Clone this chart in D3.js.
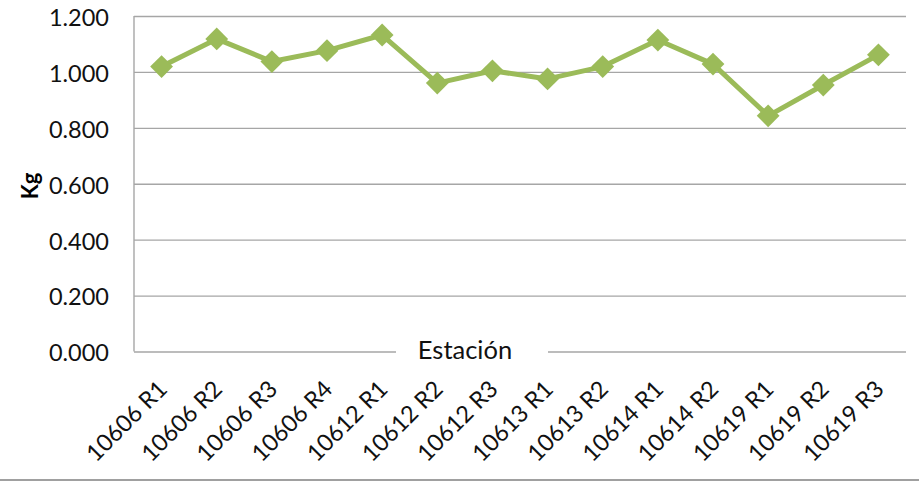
<!DOCTYPE html>
<html>
<head>
<meta charset="utf-8">
<script src="https://cdn.jsdelivr.net/npm/d3@7/dist/d3.min.js"></script>
<style>
  html, body { margin: 0; padding: 0; background: #fff; }
  svg { display: block; font-family: Lato, "Open Sans", sans-serif; }
</style>
</head>
<body>
<svg id="chart" width="919" height="504"></svg>
<script>
// Station sample weights (Kg)
const categories = ["10606 R1", "10606 R2", "10606 R3", "10606 R4", "10612 R1", "10612 R2", "10612 R3",
                    "10613 R1", "10613 R2", "10614 R1", "10614 R2", "10619 R1", "10619 R2", "10619 R3"];
const values = [1.019, 1.118, 1.037, 1.076, 1.132, 0.960, 1.004, 0.975, 1.019, 1.114, 1.028, 0.843, 0.953, 1.061];
const yTicks = [0, 0.2, 0.4, 0.6, 0.8, 1.0, 1.2];
const xTitle = "Estación";
const yTitle = "Kg";

(function () {
const svg = d3.select("#chart");
const plotLeft = 134, plotRight = 906, plotTop = 16, plotBottom = 351.5;
const gridColor = "#a6a6a6";
const lineColor = "#9bbb59";
const textColor = "#111";

const x = d3.scaleBand().domain(categories).range([plotLeft, plotRight]);
const y = d3.scaleLinear().domain([0, 1.2]).range([plotBottom, plotTop]);
const cx = d => x(d) + x.bandwidth() / 2;

// horizontal gridlines + value labels
const yAxis = svg.append("g")
  .attr("transform", `translate(${plotLeft},0)`)
  .call(d3.axisLeft(y).tickValues(yTicks).tickFormat(d3.format(".3f"))
        .tickSize(-(plotRight - plotLeft)).tickPadding(25));
yAxis.select(".domain").remove();
yAxis.selectAll(".tick line").attr("stroke", gridColor).attr("stroke-width", 1.4);
yAxis.selectAll(".tick text")
  .attr("fill", textColor).attr("font-size", 23.5).attr("font-family", "Lato").attr("dy", "0.4em");

// vertical value axis line
svg.append("line")
  .attr("x1", plotLeft).attr("x2", plotLeft).attr("y1", plotTop).attr("y2", plotBottom)
  .attr("stroke", gridColor).attr("stroke-width", 1.4);

// category labels, rotated
svg.append("g").selectAll("text").data(categories).join("text")
  .attr("transform", d => `translate(${cx(d) + 7},${plotBottom + 39}) rotate(-45)`)
  .attr("text-anchor", "end")
  .attr("font-size", 23.5)
  .attr("fill", textColor)
  .text(d => d);

// axis title sitting on the zero line
svg.append("rect")
  .attr("x", 396).attr("y", plotBottom - 14).attr("width", 152).attr("height", 26)
  .attr("fill", "#fff");
svg.append("text")
  .attr("x", 465).attr("y", plotBottom + 7)
  .attr("text-anchor", "middle")
  .attr("font-size", 25.5)
  .attr("fill", textColor)
  .text(xTitle);

// vertical axis title
svg.append("text")
  .attr("transform", `translate(38,186) rotate(-90)`)
  .attr("text-anchor", "middle")
  .attr("font-size", 22)
  .attr("font-weight", "bold")
  .attr("fill", "#000")
  .text(yTitle);

// series line
const line = d3.line().x((d, i) => cx(categories[i])).y(d => y(d));
svg.append("path")
  .datum(values)
  .attr("d", line)
  .attr("fill", "none")
  .attr("stroke", lineColor)
  .attr("stroke-width", 5)
  .attr("stroke-linejoin", "round");

// diamond markers
const diamond = d3.symbol(d3.symbolSquare, 260);
svg.append("g").selectAll("path").data(values).join("path")
  .attr("d", diamond)
  .attr("transform", (d, i) => `translate(${cx(categories[i])},${y(d)}) rotate(45)`)
  .attr("fill", lineColor);

// frame line along the bottom
svg.append("line")
  .attr("x1", 0).attr("x2", 919).attr("y1", 480).attr("y2", 480)
  .attr("stroke", "#a0a0a0").attr("stroke-width", 2);
})();
</script>
</body>
</html>
